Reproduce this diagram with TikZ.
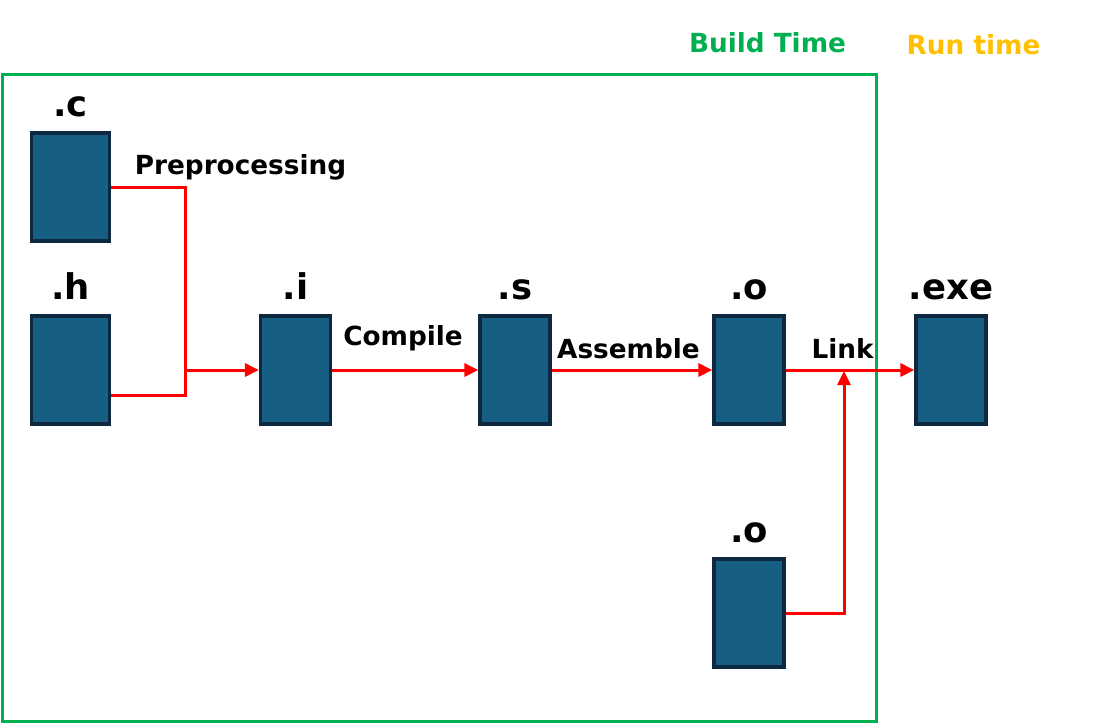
\documentclass[tikz,border=0pt]{standalone}
\usepackage{fontspec}
\setmainfont{DejaVu Sans}
\usetikzlibrary{arrows.meta,positioning,calc}
\definecolor{buildgreen}{HTML}{00B050}
\definecolor{runamber}{HTML}{FFC000}
\definecolor{filefill}{HTML}{175E83}
\definecolor{fileedge}{HTML}{0E2841}
\definecolor{flow}{HTML}{FF0000}

\begin{document}
\begin{tikzpicture}[x=0.5pt,y=-0.5pt,
    file/.style={draw=fileedge,fill=filefill,line width=1.6pt,minimum width=35pt,
                 minimum height=54pt,inner sep=0pt},
    wide/.style={minimum width=39pt},
    ext/.style={font=\fontsize{17.7}{20}\selectfont\bfseries,anchor=base,inner sep=0pt},
    stage/.style={font=\fontsize{13.15}{15}\selectfont\bfseries,anchor=base,inner sep=0pt},
    wire/.style={flow,line width=1.5pt},
    arr/.style={wire,-{Triangle[length=7pt,width=6.5pt]}}]
  \useasboundingbox (0,0) rectangle (1098,723);
  % build time frame
  \draw[buildgreen,line width=1.5pt] (2,74.5) rectangle (876.5,721);
  \node[stage,text=buildgreen] (build) at (767.5,52) {Build Time};
  \node[stage,text=runamber] (run) at (973.5,54) {Run time};
  % files
  \node[file,wide] (c)  at (70.5,187) {};
  \node[file,wide] (h)  at (70.5,370) {};
  \node[file] (i)   at (295.5,370) {};
  \node[file] (s)   at (515,370)   {};
  \node[file] (o)   at (749,370)   {};
  \node[file] (exe) at (951,370)   {};
  \node[file] (o2)  at (749,613)   {};
  \foreach \b/\t in {c/.c,h/.h,i/.i,s/.s,o/.o,exe/.exe,o2/.o}
    \node[ext] (\b-lbl) at ([yshift=7.5pt]\b.north) {\t};
  % steps
  \coordinate (join) at (185,370);
  \coordinate (lk) at (844,371);
  \draw[wire] (c.east) -| (join);
  \draw[wire] ($(h.east)+(0,25)$) -| (join);
  \draw[arr] (join) -- (i.west);
  \draw[arr] (i) -- (s); \draw[arr] (s) -- (o); \draw[arr] (o) -- (exe);
  \draw[arr] (o2.east) -| (lk);
  \node[stage] (pre) at (240.5,174) {Preprocessing};
  \node[stage] (cmp) at (403,345)   {Compile};
  \node[stage] (asm) at (628.5,358) {Assemble};
  \node[stage] (lnk) at (842.5,358) {Link};
\end{tikzpicture}
\end{document}
